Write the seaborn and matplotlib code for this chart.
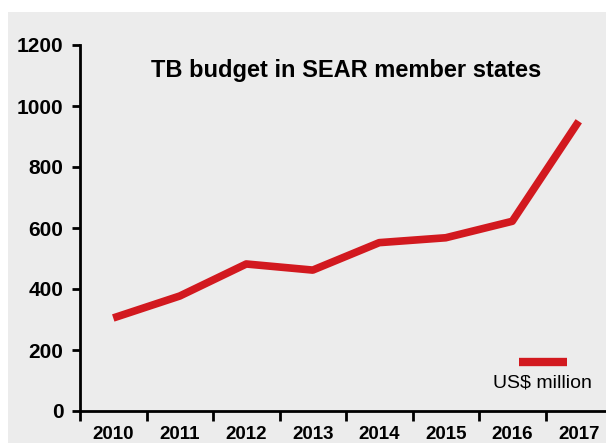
import numpy as np
import pandas as pd
import seaborn as sns
import matplotlib.pyplot as plt
from matplotlib.lines import Line2D
from matplotlib.patches import Rectangle

years = ['2010', '2011', '2012', '2013', '2014', '2015', '2016', '2017']
budget = [305, 377, 482, 462, 552, 568, 622, 950]
y_ticks = [0, 200, 400, 600, 800, 1000, 1200]

df = pd.DataFrame({'year': years, 'budget': budget})
df['pos'] = np.arange(len(years))

red = '#d2191f'
bg = '#ececec'

sns.set_style('ticks')
plt.rcParams['font.family'] = ['Liberation Sans', 'DejaVu Sans']
plt.rcParams['text.color'] = 'black'
plt.rcParams['xtick.color'] = 'black'
plt.rcParams['ytick.color'] = 'black'
plt.rcParams['xtick.labelcolor'] = 'black'
plt.rcParams['ytick.labelcolor'] = 'black'

fig = plt.figure(figsize=(6.06, 4.46), dpi=100)
fig.patch.set_facecolor('white')
fig.patches.append(Rectangle((8 / 606, 3 / 446), 1, (446 - 12 - 3) / 446,
                             transform=fig.transFigure, facecolor=bg,
                             edgecolor='none', zorder=-10))

ax = fig.add_axes([80 / 606, 35 / 446, 532 / 606, 366 / 446])
ax.set_facecolor(bg)

sns.lineplot(data=df, x='pos', y='budget', color=red, linewidth=5.5,
             solid_capstyle='butt', ax=ax)

ax.set_xlim(-0.5, len(years) - 0.5)
ax.set_ylim(0, 1200)
ax.set_yticks(y_ticks)
ax.set_yticklabels([str(v) for v in y_ticks], fontsize=15, fontweight='bold', color='black')
ax.set_xticks(df['pos'])
ax.set_xticklabels(years, fontsize=13.5, fontweight='bold', color='black')
ax.set_xticks(np.arange(len(years) + 1) - 0.5, minor=True)
ax.tick_params(axis='x', which='major', length=0, pad=11)
ax.tick_params(axis='x', which='minor', length=7, width=2, color='black', direction='out')
ax.tick_params(axis='y', length=6, width=2, color='black', direction='out', pad=6)
ax.set_xlabel('')
ax.set_ylabel('')

sns.despine(ax=ax)
for s in ['left', 'bottom']:
    ax.spines[s].set_linewidth(2)
    ax.spines[s].set_color('black')

ax.text(0.5, 0.93, 'TB budget in SEAR member states', transform=ax.transAxes,
        ha='center', va='center', fontsize=17, fontweight='bold', color='black')

handle = Line2D([], [], color=red, linewidth=6, solid_capstyle='butt')
ax.legend([handle], [''], loc='center', bbox_to_anchor=(0.87, 0.128),
          frameon=False, handlelength=2.5, handletextpad=0, borderpad=0,
          fontsize=14)
ax.text(0.87, 0.076, 'US$ million', transform=ax.transAxes, ha='center',
        va='center', fontsize=14, color='black')

fig.savefig('out.png', dpi=100)
